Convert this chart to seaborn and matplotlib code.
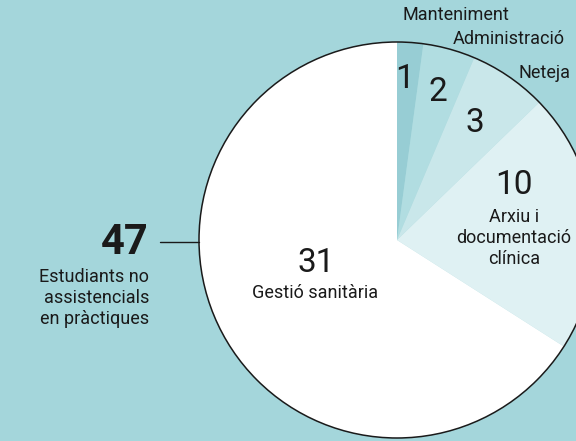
import numpy as np
import pandas as pd
import matplotlib.pyplot as plt
import seaborn as sns
from matplotlib.patches import Circle

# Data
categories = ['Manteniment', 'Administració', 'Neteja',
              'Arxiu i\ndocumentació\nclínica', 'Gestió sanitària']
values = [1, 2, 3, 10, 31]
total = sum(values)
total_label = 'Estudiants no\nassistencials\nen pràctiques'

# Style
bg = '#a4d6db'
colors = ['#97cdd4', '#b1dde1', '#c9e7ea', '#dff1f3', '#ffffff']
ink = '#1a1a1a'

sns.set_style('white')
plt.rcParams['font.family'] = ['Roboto', 'DejaVu Sans']

fig = plt.figure(figsize=(5.76, 4.41), dpi=100)
fig.patch.set_facecolor(bg)
ax = fig.add_axes([0, 0, 1, 1])
ax.set_facecolor(bg)

H = 441
cx, cy, r = 397, H - 240, 198

wedges, _ = ax.pie(values, colors=colors, startangle=90, counterclock=False,
                   center=(cx, cy), radius=r, frame=True,
                   wedgeprops=dict(linewidth=0))
ax.add_patch(Circle((cx, cy), r, fill=False, edgecolor=ink, linewidth=1.1))

ax.set_xlim(0, 576)
ax.set_ylim(0, H)
ax.set_aspect('equal')
ax.axis('off')

# numbers inside the wedges (image coords -> data)
num_pos = [(405, 79), (438, 92), (475, 123), (514, 185), (316, 263)]
for v, (x, y) in zip(values, num_pos):
    ax.text(x, H - y, str(v), ha='center', va='center', fontsize=24,
            color=ink)

# names outside / inside
fs = 13
ax.text(456, H - 15, categories[0], ha='center', va='center', fontsize=fs, color=ink)
ax.text(509, H - 39, categories[1], ha='center', va='center', fontsize=fs, color=ink)
ax.text(544, H - 73, categories[2], ha='center', va='center', fontsize=fs, color=ink)
ax.text(514, H - 238, categories[3], ha='center', va='center', fontsize=fs,
        color=ink, linespacing=1.22)
ax.text(315, H - 293, categories[4], ha='center', va='center', fontsize=fs, color=ink)

# total
ax.text(149, H - 242, str(total), ha='right', va='center', fontsize=30,
        fontweight='bold', color=ink)
ax.plot([160, cx - r], [H - 242, H - 242], color=ink, linewidth=1)
ax.text(149, H - 298, total_label, ha='right', va='center', fontsize=fs,
        color=ink, linespacing=1.22)

plt.savefig('out.png', dpi=100, facecolor=bg)
